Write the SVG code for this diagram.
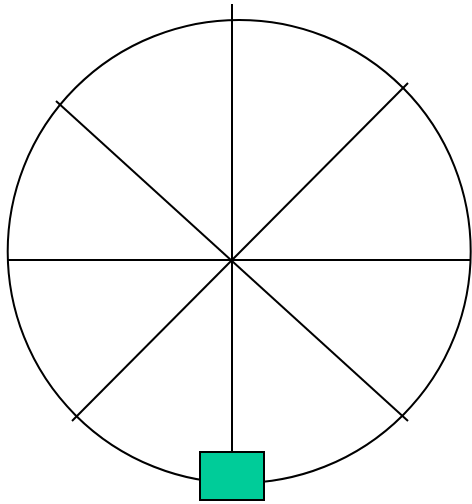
<svg xmlns="http://www.w3.org/2000/svg" width="472" height="504" viewBox="0 0 472 504">
<style>
.s{fill:none;stroke:#000;stroke-width:2}
</style>
<rect width="472" height="504" fill="#fff"/>
<g id="wheel">
<circle class="s" cx="239.2" cy="251.5" r="231.5"/>
</g>
<g id="connectors">
<line class="s" x1="232" y1="4" x2="232" y2="452"/>
<line class="s" x1="8" y1="260" x2="471" y2="260"/>
<line class="s" x1="56" y1="101" x2="408" y2="421"/>
<line class="s" x1="408" y1="83" x2="72" y2="421"/>
</g>
<g id="box">
<rect x="200" y="452" width="64" height="48" fill="#00cc99" stroke="#000" stroke-width="2"/>
</g>
</svg>
